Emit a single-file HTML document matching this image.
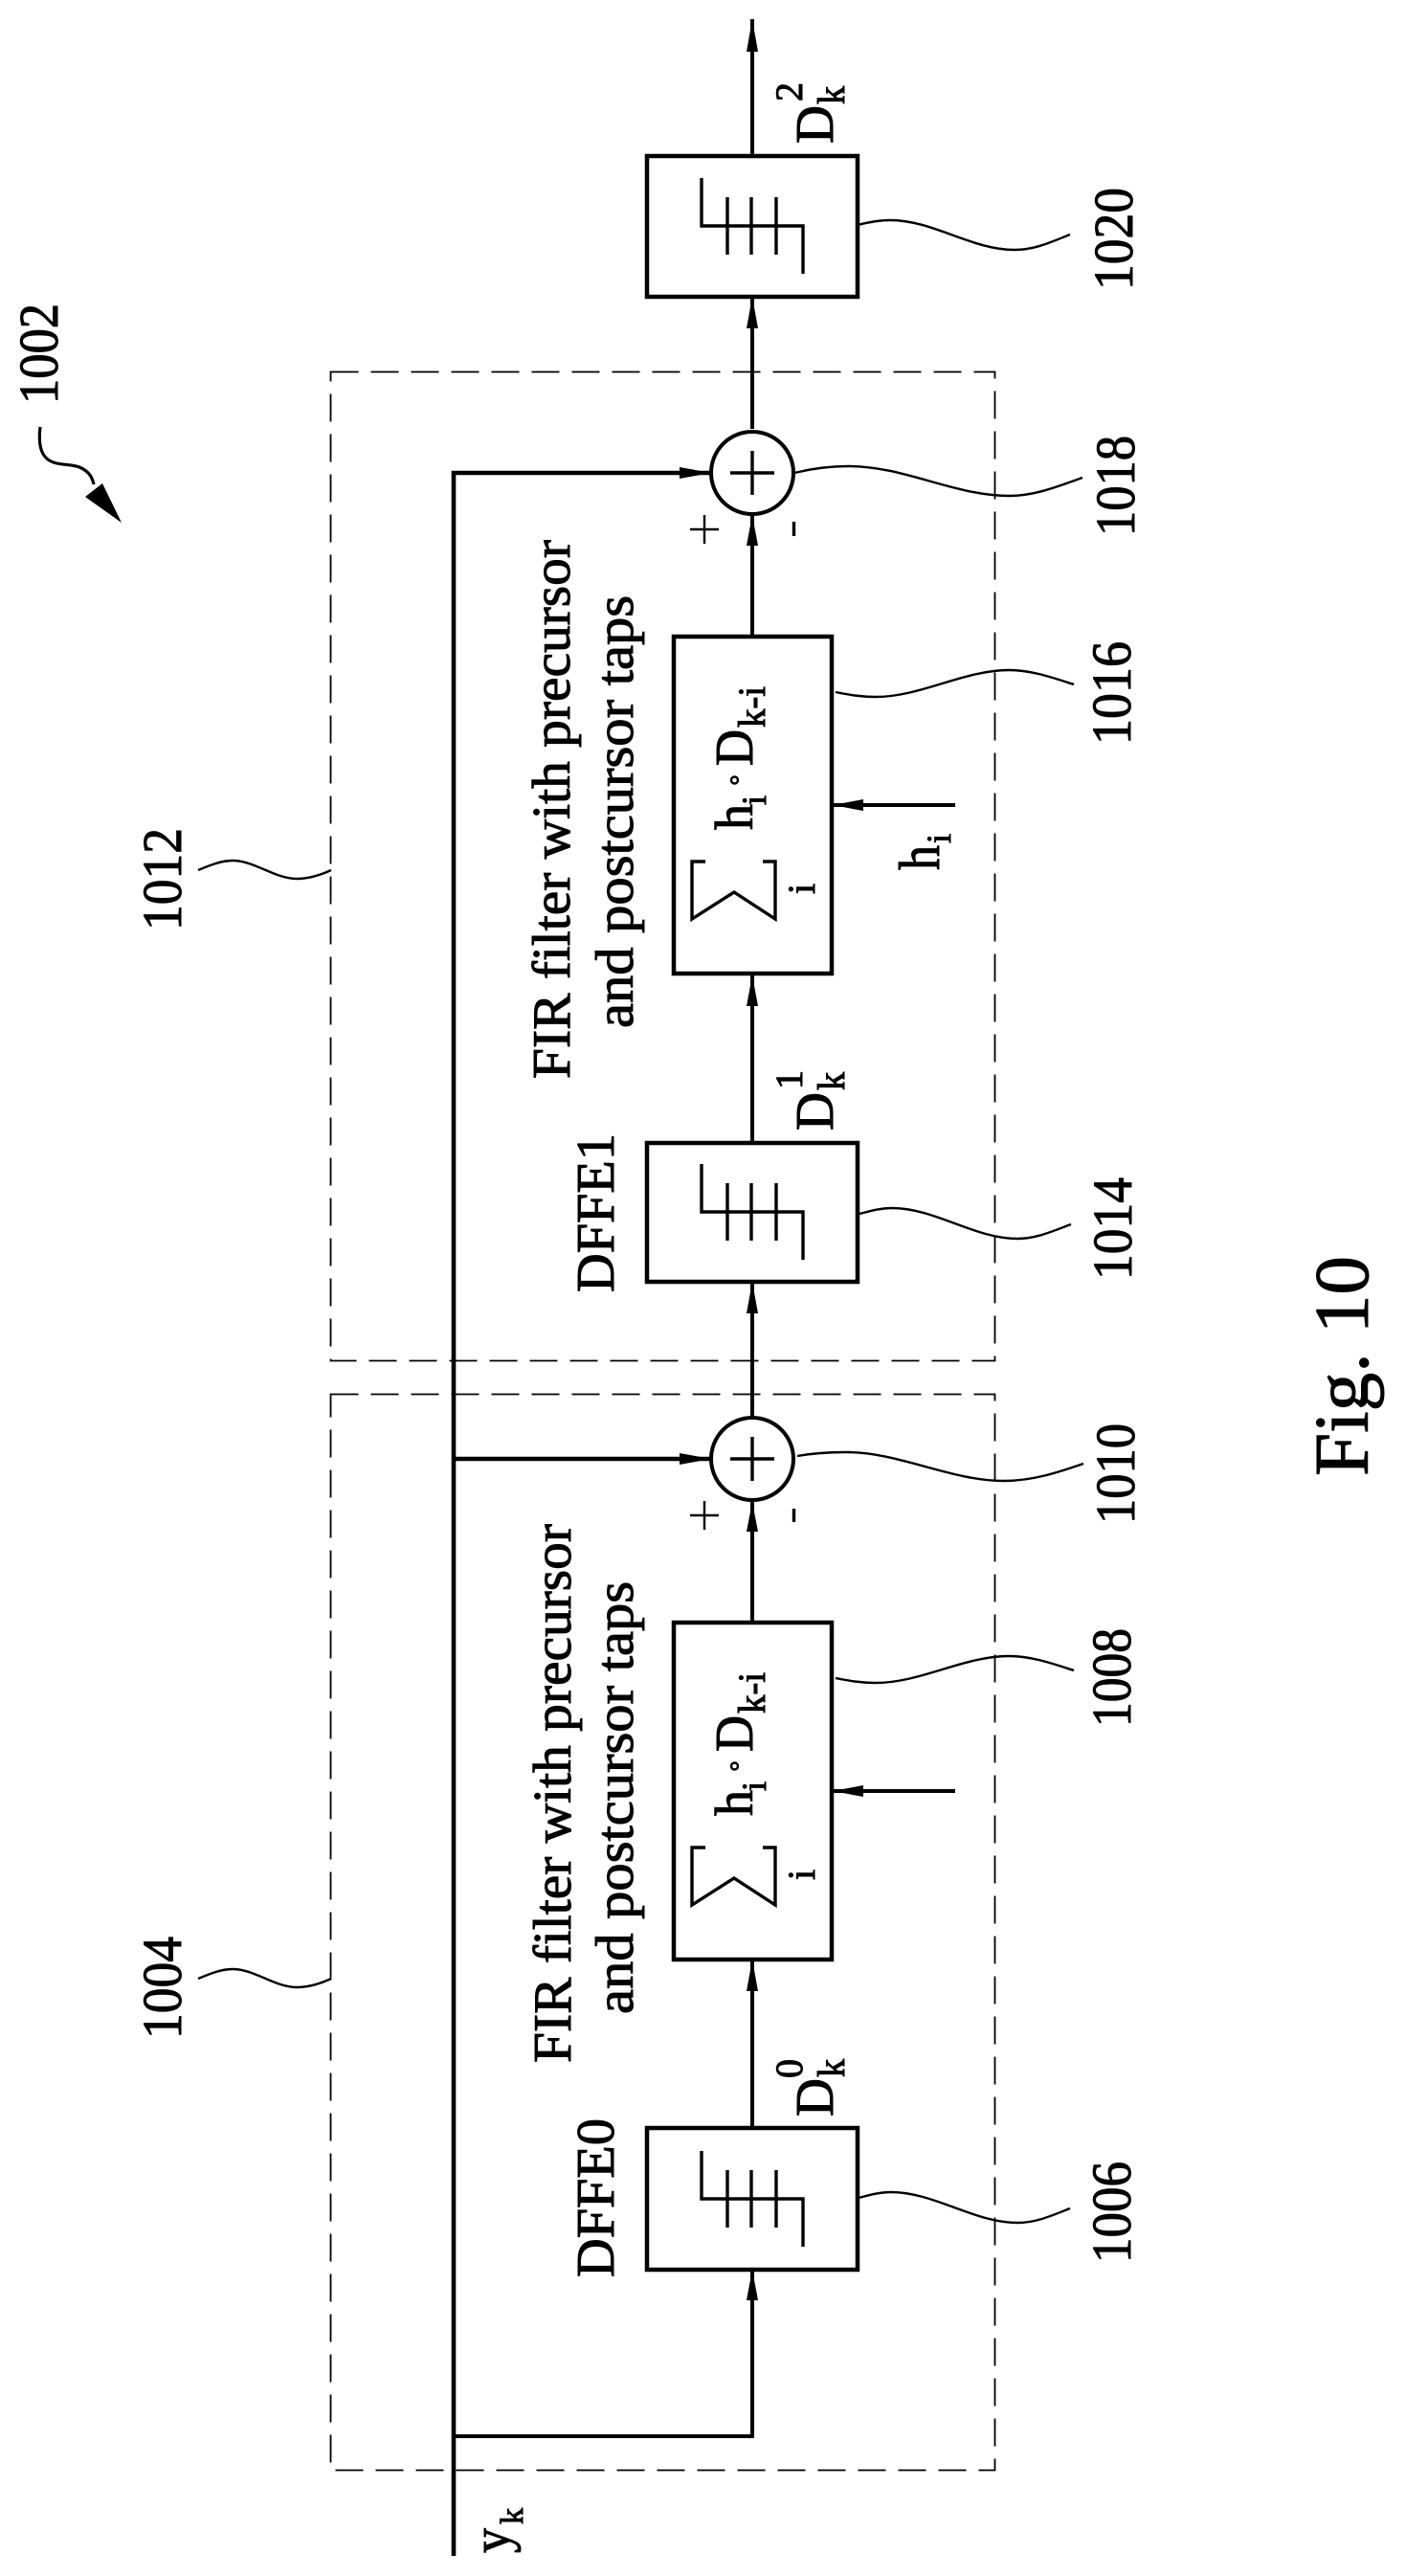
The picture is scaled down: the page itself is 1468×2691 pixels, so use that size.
<!DOCTYPE html>
<html>
<head>
<meta charset="utf-8">
<style>
html,body{margin:0;padding:0;background:#fff}
svg{display:block}
text{font-family:"Liberation Serif",serif;fill:#000;stroke:#000;stroke-width:1}
.n{font-size:58px}
.m{font-size:56px}
.s{font-size:40px}
.w{fill:none;stroke:#000;stroke-width:4}
.b{fill:#fff;stroke:#000;stroke-width:4.5}
.t{fill:none;stroke:#000;stroke-width:3.4}
.l{fill:none;stroke:#000;stroke-width:2.4}
.d{fill:none;stroke:#000;stroke-width:1.8;stroke-dasharray:29 13}
.a{fill:#000;stroke:none}
</style>
</head>
<body>
<svg xmlns="http://www.w3.org/2000/svg" width="1468" height="2691" viewBox="0 0 1468 2691">
<rect width="1468" height="2691" fill="#fff"/>

<!-- dashed groups -->
<rect class="d" x="345.5" y="388.5" width="694" height="1033"/>
<rect class="d" x="345.5" y="1456.5" width="694" height="1124"/>

<!-- wiring -->
<path class="w" d="M786 20V163M786 310V448M786 537V665M786 1017V1194M786 1339V1482M786 1566V1695M786 2047V2223M786 2371V2545H474"/>
<path class="w" style="stroke-width:4.6" d="M474 2670V494H743M474 1524H744"/>
<path class="w" d="M869 841H998M869 1871H998"/>

<!-- arrowheads -->
<polygon class="a" points="786,20 780,54 792,54"/>
<polygon class="a" points="786,310 780,343 792,343"/>
<polygon class="a" points="786,538 780,570 792,570"/>
<polygon class="a" points="786,1019 780,1051 792,1051"/>
<polygon class="a" points="786,1339 780,1372 792,1372"/>
<polygon class="a" points="786,1569 780,1600 792,1600"/>
<polygon class="a" points="786,2047 780,2080 792,2080"/>
<polygon class="a" points="786,2371 780,2403 792,2403"/>
<polygon class="a" points="743,494 710,488 710,500"/>
<polygon class="a" points="743,1524 710,1518 710,1530"/>
<polygon class="a" points="870,841 902,835 902,847"/>
<polygon class="a" points="870,1871 902,1865 902,1877"/>

<!-- boxes -->
<rect class="b" x="676" y="163" width="220" height="147"/>
<rect class="b" x="704" y="665" width="165" height="352"/>
<rect class="b" x="676" y="1194" width="220" height="145"/>
<rect class="b" x="704" y="1695" width="165" height="352"/>
<rect class="b" x="676" y="2223" width="220" height="148"/>

<!-- summing junctions -->
<circle class="w" cx="786" cy="494" r="43" style="fill:#fff"/>
<circle class="w" cx="786" cy="1524" r="43" style="fill:#fff"/>
<path class="t" d="M763 494H809M786 471V517M763 1524H809M786 1501V1547"/>
<path class="l" d="M736 538V568M721 553H751M736 1568V1598M721 1583H751"/>
<path class="t" d="M829.5 545V560M829.5 1576V1590"/>

<!-- decision symbols -->
<path class="t" d="M733 186V236H839V286M760 206V266M785 206V266M811 206V266"/>
<path class="t" d="M733 1216V1266H839V1316M760 1236V1296M785 1236V1296M811 1236V1296"/>
<path class="t" d="M733 2247V2297H839V2347M760 2267V2327M785 2267V2327M811 2267V2327"/>

<!-- sigma -->
<path class="t" d="M737 900H723V960L767 932L810 960V900H797"/>
<path class="t" d="M737 1930H723V1990L767 1962L810 1990V1930H797"/>

<!-- filter contents -->
<text class="m" transform="translate(786,800) rotate(-90)" textLength="38" lengthAdjust="spacingAndGlyphs">D</text>
<text class="s" transform="translate(799,760) rotate(-90)" textLength="43" lengthAdjust="spacingAndGlyphs">k-i</text>
<text class="m" transform="translate(786,867) rotate(-90)" textLength="27" lengthAdjust="spacingAndGlyphs">h</text>
<text class="s" style="font-size:36px" transform="translate(800,841) rotate(-90)">i</text>
<circle class="l" cx="767.5" cy="815" r="3.5"/>
<text class="s" transform="translate(851,934) rotate(-90)">i</text>

<text class="m" transform="translate(786,1830) rotate(-90)" textLength="38" lengthAdjust="spacingAndGlyphs">D</text>
<text class="s" transform="translate(799,1790) rotate(-90)" textLength="43" lengthAdjust="spacingAndGlyphs">k-i</text>
<text class="m" transform="translate(786,1897) rotate(-90)" textLength="27" lengthAdjust="spacingAndGlyphs">h</text>
<text class="s" style="font-size:36px" transform="translate(800,1871) rotate(-90)">i</text>
<circle class="l" cx="767.5" cy="1845" r="3.5"/>
<text class="s" transform="translate(851,1964) rotate(-90)">i</text>

<text class="m" style="font-size:60px" transform="translate(981,909) rotate(-90)" textLength="26" lengthAdjust="spacingAndGlyphs">h</text>
<text class="s" style="font-size:36px" transform="translate(993,881) rotate(-90)">i</text>

<!-- D labels -->
<text class="m" transform="translate(870,150) rotate(-90)" textLength="40" lengthAdjust="spacingAndGlyphs">D</text>
<text class="s" transform="translate(838,106) rotate(-90)">2</text>
<text class="s" transform="translate(882,109) rotate(-90)" textLength="19" lengthAdjust="spacingAndGlyphs">k</text>

<text class="m" transform="translate(870,1181) rotate(-90)" textLength="40" lengthAdjust="spacingAndGlyphs">D</text>
<text class="s" transform="translate(838,1138) rotate(-90)">1</text>
<text class="s" transform="translate(882,1139) rotate(-90)" textLength="19" lengthAdjust="spacingAndGlyphs">k</text>

<text class="m" transform="translate(870,2211) rotate(-90)" textLength="40" lengthAdjust="spacingAndGlyphs">D</text>
<text class="s" transform="translate(838,2171) rotate(-90)">0</text>
<text class="s" transform="translate(882,2170) rotate(-90)" textLength="19" lengthAdjust="spacingAndGlyphs">k</text>

<!-- y_k -->
<text class="m" transform="translate(532,2667) rotate(-90)" textLength="26" lengthAdjust="spacingAndGlyphs">y</text>
<text class="s" style="font-size:34px" transform="translate(546,2637) rotate(-90)" textLength="17" lengthAdjust="spacingAndGlyphs">k</text>

<!-- block text -->
<text class="m" transform="translate(595,1127) rotate(-90)" textLength="563" lengthAdjust="spacingAndGlyphs">FIR filter with precursor</text>
<text class="m" transform="translate(661,1074) rotate(-90)" textLength="452" lengthAdjust="spacingAndGlyphs">and postcursor taps</text>
<text class="m" transform="translate(641,1350) rotate(-90)" textLength="166" lengthAdjust="spacingAndGlyphs">DFFE1</text>

<text class="m" transform="translate(596,2155) rotate(-90)" textLength="563" lengthAdjust="spacingAndGlyphs">FIR filter with precursor</text>
<text class="m" transform="translate(661,2104) rotate(-90)" textLength="452" lengthAdjust="spacingAndGlyphs">and postcursor taps</text>
<text class="m" transform="translate(641,2379) rotate(-90)" textLength="166" lengthAdjust="spacingAndGlyphs">DFFE0</text>

<!-- leaders -->
<path class="l" d="M896 235C908 232 918 230 930 230C975 230 1015 261 1060 261C1082 261 1100 252 1118 245"/>
<path class="l" d="M830 494C850 489 868 487 887 487C945 487 997 518 1055 518C1082 518 1108 507 1131 499"/>
<path class="l" d="M873 723C888 726 900 728 915 728C962 728 1007 700 1054 700C1078 700 1100 708 1122 715"/>
<path class="l" d="M898 1268C910 1265 920 1262 932 1262C977 1262 1018 1294 1063 1294C1083 1294 1100 1286 1119 1279"/>
<path class="l" d="M833 1521C850 1518 866 1517 884 1517C940 1517 993 1547 1049 1547C1079 1547 1106 1538 1132 1529"/>
<path class="l" d="M873 1753C888 1756 900 1758 915 1758C962 1758 1007 1730 1054 1730C1078 1730 1100 1738 1122 1745"/>
<path class="l" d="M897 2296C909 2293 919 2290 931 2290C976 2290 1018 2322 1063 2322C1083 2322 1100 2314 1118 2307"/>
<path class="l" d="M207 909C219 904 231 899 243 899C266 899 287 918 310 918C323 918 335 914 346 909"/>
<path class="l" d="M207 2067C219 2062 231 2057 243 2057C266 2057 287 2076 310 2076C323 2076 335 2072 346 2067"/>

<!-- numerals -->
<text class="n" transform="translate(1183,303) rotate(-90)" textLength="107" lengthAdjust="spacingAndGlyphs">1020</text>
<text class="n" transform="translate(1185,560) rotate(-90)" textLength="105" lengthAdjust="spacingAndGlyphs">1018</text>
<text class="n" transform="translate(1181,778) rotate(-90)" textLength="108" lengthAdjust="spacingAndGlyphs">1016</text>
<text class="n" transform="translate(1182,1337) rotate(-90)" textLength="107" lengthAdjust="spacingAndGlyphs">1014</text>
<text class="n" transform="translate(1185,1592) rotate(-90)" textLength="105" lengthAdjust="spacingAndGlyphs">1010</text>
<text class="n" transform="translate(1181,1804) rotate(-90)" textLength="103" lengthAdjust="spacingAndGlyphs">1008</text>
<text class="n" transform="translate(1181,2364) rotate(-90)" textLength="106" lengthAdjust="spacingAndGlyphs">1006</text>
<text class="n" transform="translate(189,972) rotate(-90)" textLength="107" lengthAdjust="spacingAndGlyphs">1012</text>
<text class="n" transform="translate(189,2130) rotate(-90)" textLength="107" lengthAdjust="spacingAndGlyphs">1004</text>
<text class="n" transform="translate(60,422) rotate(-90)" textLength="105" lengthAdjust="spacingAndGlyphs">1002</text>

<!-- 1002 arrow -->
<path class="w" style="stroke-width:3.2" d="M42 446C40 462 42 474 50 480C60 487 73 484 83 488C92 492 96 497 98 506"/>
<polygon class="a" points="107,505 89,519 127,546"/>

<!-- figure caption -->
<text style="font-size:81px" transform="translate(1429,1542) rotate(-90)" textLength="230" lengthAdjust="spacingAndGlyphs">Fig. 10</text>
</svg>
</body>
</html>
